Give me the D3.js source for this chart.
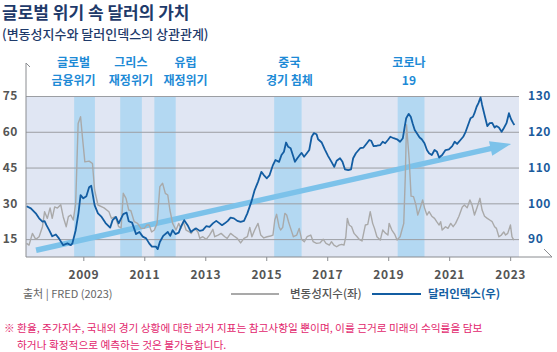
<!DOCTYPE html>
<html>
<head>
<meta charset="utf-8">
<script src="https://cdn.jsdelivr.net/npm/d3@7"></script>
<style>
  body { margin: 0; background: #fff; }
  svg { display: block; font-family: "Noto Sans CJK KR", "Noto Sans", sans-serif; }
</style>
</head>
<body>
<svg width="557" height="352"></svg>
<script>
// data (decimal years)
const dollarYears = [2007.14, 2007.28, 2007.44, 2007.55, 2007.66, 2007.73, 2007.79, 2007.88, 2007.98, 2008.10,
  2008.20, 2008.34, 2008.48, 2008.59, 2008.64, 2008.75, 2008.84, 2008.91, 2009.00, 2009.10,
  2009.19, 2009.26, 2009.37, 2009.48, 2009.60, 2009.73, 2009.88, 2009.96, 2010.07, 2010.16,
  2010.24, 2010.31, 2010.42, 2010.49, 2010.60, 2010.73, 2010.84, 2010.95, 2011.06, 2011.16,
  2011.25, 2011.38, 2011.44, 2011.51, 2011.62, 2011.77, 2011.85, 2011.93, 2012.02, 2012.13,
  2012.20, 2012.31, 2012.42, 2012.53, 2012.60, 2012.70, 2012.82, 2012.92, 2013.03, 2013.14,
  2013.25, 2013.36, 2013.47, 2013.55, 2013.64, 2013.74, 2013.83, 2013.94, 2014.05, 2014.16,
  2014.27, 2014.38, 2014.51, 2014.62, 2014.73, 2014.84, 2014.92, 2015.02, 2015.11, 2015.22,
  2015.30, 2015.42, 2015.50, 2015.58, 2015.65, 2015.72, 2015.80, 2015.89, 2015.94, 2016.02,
  2016.10, 2016.16, 2016.24, 2016.33, 2016.41, 2016.49, 2016.56, 2016.65, 2016.70, 2016.82,
  2016.92, 2017.03, 2017.14, 2017.23, 2017.31, 2017.42, 2017.50, 2017.58, 2017.69, 2017.78,
  2017.85, 2017.94, 2018.08, 2018.19, 2018.30, 2018.38, 2018.44, 2018.52, 2018.63, 2018.74,
  2018.82, 2018.90, 2018.99, 2019.07, 2019.18, 2019.29, 2019.39, 2019.48, 2019.54, 2019.59,
  2019.67, 2019.74, 2019.80, 2019.87, 2019.94, 2020.03, 2020.10, 2020.19, 2020.27, 2020.34,
  2020.43, 2020.52, 2020.60, 2020.67, 2020.77, 2020.88, 2020.99, 2021.10, 2021.18, 2021.26,
  2021.37, 2021.46, 2021.54, 2021.62, 2021.70, 2021.78, 2021.83, 2021.90, 2021.96, 2022.03,
  2022.08, 2022.16, 2022.25, 2022.33, 2022.41, 2022.49, 2022.55, 2022.63, 2022.72, 2022.79,
  2022.88, 2022.96, 2023.03, 2023.10, 2023.14]
const dollarValues = [99.2, 98.6, 97.2, 95.8, 94.9, 95.0, 93.9, 92.5, 90.8, 91.3,
  90.2, 88.3, 88.8, 88.3, 88.8, 92.5, 97.2, 102.3, 101.4, 102.0,
  104.5, 104.9, 99.5, 97.2, 96.2, 94.5, 93.2, 95.3, 96.2, 94.4,
  95.8, 97.0, 97.4, 95.0, 94.6, 91.4, 92.0, 90.7, 90.2, 88.8,
  87.9, 87.9, 87.2, 89.2, 90.9, 92.0, 90.9, 92.5, 91.4, 91.8,
  93.4, 95.3, 93.9, 92.0, 92.5, 93.0, 92.3, 92.5, 93.6, 93.4,
  94.4, 95.1, 94.4, 93.9, 94.4, 95.1, 96.0, 95.8, 95.1, 94.8,
  95.1, 97.2, 100.4, 103.7, 106.0, 108.8, 107.9, 107.0, 107.9, 110.7,
  112.1, 111.6, 113.5, 114.4, 117.0, 115.8, 115.4, 113.0, 111.6, 112.6,
  113.5, 114.1, 113.0, 114.0, 114.9, 118.6, 119.6, 119.3, 117.9, 117.0,
  115.1, 113.2, 111.6, 110.2, 111.9, 112.6, 111.6, 109.5, 109.3, 109.5,
  112.6, 114.0, 115.4, 115.6, 116.8, 117.7, 117.5, 116.0, 116.1, 116.3,
  117.2, 116.8, 117.7, 118.6, 118.2, 117.9, 117.2, 118.2, 121.4, 123.8,
  125.0, 124.2, 122.4, 120.5, 119.6, 118.4, 117.9, 116.8, 114.9, 114.0,
  113.5, 114.9, 114.4, 112.8, 113.5, 114.9, 115.1, 116.0, 117.2, 116.6,
  117.7, 118.6, 120.0, 121.9, 123.8, 124.2, 125.2, 127.0, 128.0, 129.6,
  127.5, 124.7, 121.6, 122.4, 122.5, 121.2, 121.6, 121.2, 120.0, 121.0,
  122.4, 125.2, 123.5, 122.4, 121.9]

const vixYears = [2007.14, 2007.22, 2007.33, 2007.44, 2007.55, 2007.66, 2007.73, 2007.82, 2007.91, 2007.98,
  2008.06, 2008.15, 2008.26, 2008.34, 2008.44, 2008.51, 2008.59, 2008.67, 2008.75, 2008.83,
  2008.91, 2008.97, 2009.05, 2009.19, 2009.30, 2009.37, 2009.48, 2009.68, 2009.84, 2009.92,
  2010.05, 2010.16, 2010.24, 2010.31, 2010.40, 2010.49, 2010.56, 2010.67, 2010.78, 2010.89,
  2011.00, 2011.08, 2011.16, 2011.24, 2011.33, 2011.42, 2011.51, 2011.60, 2011.69, 2011.77,
  2011.84, 2011.93, 2012.04, 2012.13, 2012.20, 2012.28, 2012.37, 2012.48, 2012.54, 2012.65,
  2012.76, 2012.82, 2012.92, 2013.03, 2013.14, 2013.25, 2013.31, 2013.42, 2013.52, 2013.64,
  2013.72, 2013.83, 2013.94, 2014.05, 2014.16, 2014.27, 2014.38, 2014.46, 2014.53, 2014.62,
  2014.73, 2014.82, 2014.92, 2015.03, 2015.14, 2015.22, 2015.28, 2015.34, 2015.42, 2015.47,
  2015.54, 2015.61, 2015.67, 2015.73, 2015.80, 2015.89, 2016.00, 2016.08, 2016.16, 2016.25,
  2016.34, 2016.46, 2016.54, 2016.65, 2016.76, 2016.87, 2016.96, 2017.07, 2017.14, 2017.22,
  2017.31, 2017.39, 2017.47, 2017.55, 2017.61, 2017.66, 2017.72, 2017.80, 2017.88, 2017.98,
  2018.05, 2018.14, 2018.25, 2018.33, 2018.41, 2018.49, 2018.55, 2018.63, 2018.74, 2018.82,
  2018.90, 2018.99, 2019.03, 2019.12, 2019.21, 2019.29, 2019.39, 2019.45, 2019.51, 2019.56,
  2019.60, 2019.69, 2019.75, 2019.83, 2019.91, 2019.97, 2020.05, 2020.13, 2020.19, 2020.27,
  2020.34, 2020.43, 2020.52, 2020.59, 2020.67, 2020.72, 2020.77, 2020.88, 2020.96, 2021.05,
  2021.13, 2021.21, 2021.32, 2021.43, 2021.50, 2021.59, 2021.68, 2021.75, 2021.83, 2021.92,
  2022.01, 2022.08, 2022.16, 2022.25, 2022.33, 2022.41, 2022.49, 2022.55, 2022.63, 2022.71,
  2022.79, 2022.85, 2022.92, 2023.01, 2023.06, 2023.12]
const vixValues = [13.2, 12.5, 17.4, 14.9, 16.0, 20.2, 26.5, 23.7, 28.1, 23.7,
  28.5, 28.0, 29.4, 24.4, 20.2, 24.4, 25.1, 23.0, 30.0, 63.5,
  66.3, 57.9, 47.4, 47.7, 46.7, 35.6, 29.3, 28.1, 26.5, 23.7,
  24.4, 20.2, 19.7, 34.2, 32.1, 27.2, 26.9, 22.3, 21.6, 19.5,
  19.5, 20.9, 20.9, 18.0, 18.8, 21.6, 37.0, 38.4, 34.2, 33.5,
  27.2, 21.6, 18.8, 21.6, 19.5, 22.3, 18.8, 18.0, 17.4, 19.5,
  18.0, 15.3, 16.0, 14.9, 16.7, 19.1, 16.0, 16.7, 17.4, 16.0,
  15.3, 17.4, 16.3, 15.3, 13.4, 15.3, 16.0, 19.9, 16.0, 18.8,
  21.6, 16.7, 15.5, 16.0, 16.3, 16.7, 23.0, 25.4, 20.2, 18.8,
  19.9, 25.8, 25.1, 22.3, 19.5, 16.0, 16.7, 19.5, 14.9, 13.9,
  16.0, 16.7, 13.9, 13.2, 13.4, 14.9, 13.2, 12.5, 13.9, 12.5,
  11.8, 12.5, 12.8, 12.5, 16.0, 23.7, 20.9, 20.2, 17.4, 16.0,
  14.9, 14.2, 20.9, 21.2, 26.5, 21.6, 19.5, 16.0, 14.6, 18.8,
  17.6, 16.7, 21.6, 18.8, 17.1, 14.6, 16.0, 18.8, 21.6, 41.1,
  63.0, 48.1, 33.0, 32.8, 29.3, 25.1, 28.1, 31.4, 28.1, 25.1,
  26.5, 24.6, 23.7, 22.3, 20.9, 22.3, 18.8, 20.2, 19.5, 21.6,
  20.2, 21.6, 24.6, 28.5, 29.3, 28.1, 31.4, 29.3, 25.1, 28.5,
  32.1, 27.2, 24.6, 23.7, 23.0, 22.3, 20.2, 19.5, 16.0, 16.7,
  18.0, 16.7, 17.4, 20.9, 16.0, 14.6]

// crisis periods (shaded bands) and their labels
const crisisStarts = [2008.70, 2010.21, 2011.33, 2015.26, 2019.31]
const crisisEnds = [2009.38, 2010.92, 2012.03, 2016.16, 2020.19]
const crisisLabels = [["글로벌", "금융위기"], ["그리스", "재정위기"], ["유럽", "재정위기"], ["중국", "경기 침체"], ["코로나", "19"]]
const crisisLabelYears = [2008.68, 2010.56, 2012.35, 2015.76, 2019.68]

// tick labels
const leftTicks = [15, 30, 45, 60, 75]
const rightTicks = [90, 100, 110, 120, 130]
const yearTicks = [2009, 2011, 2013, 2015, 2017, 2019, 2021, 2023]

// trend arrow, start and tip in (year, dollar index)
const trendFrom = [2007.45, 86.9]
const trendTo = [2023.03, 116.6]

const svg = d3.select("svg")

// scales
const scaleX = d3.scaleLinear()
  .domain([2007.12, 2023.29])
  .range([26, 519])

const scaleL = d3.scaleLinear()
  .domain([7.5, 75])
  .range([257, 96])

const scaleR = d3.scaleLinear()
  .domain([85, 130])
  .range([257, 96])

// titles
svg.append("text")
  .attr("x", 2)
  .attr("y", 19)
  .attr("fill", "#1e3a6a")
  .attr("font-size", 17)
  .attr("font-weight", 700)
  .text("글로벌 위기 속 달러의 가치")

svg.append("text")
  .attr("x", 2)
  .attr("y", 39)
  .attr("fill", "#1e3a6a")
  .attr("font-size", 13)
  .attr("font-weight", 500)
  .text("(변동성지수와 달러인덱스의 상관관계)")

// plot background
svg.append("rect")
  .attr("x", scaleX.range()[0])
  .attr("y", 96)
  .attr("width", scaleX.range()[1] - scaleX.range()[0])
  .attr("height", 257 - 96)
  .attr("fill", "#e0e6f3")

// crisis bands
svg.selectAll("rect.band")
  .data(crisisStarts)
  .enter()
  .append("rect")
  .attr("class", "band")
  .attr("x", d => scaleX(d))
  .attr("y", 96)
  .attr("width", (d, i) => scaleX(crisisEnds[i]) - scaleX(d))
  .attr("height", 257 - 96)
  .attr("fill", "#b3d8f2")

// crisis labels, two lines each
const labelGroups = svg.selectAll("g.crisis-label")
  .data(crisisLabels)
  .enter()
  .append("g")
  .attr("class", "crisis-label")
  .attr("transform", (d, i) => `translate(${scaleX(crisisLabelYears[i])},0)`)

labelGroups.selectAll("text")
  .data(d => d)
  .enter()
  .append("text")
  .attr("x", 0)
  .attr("y", (d, i) => i === 0 ? 67 : 85)
  .attr("text-anchor", "middle")
  .attr("fill", "#1d8ad6")
  .attr("font-size", 12)
  .attr("font-weight", 700)
  .text(d => d)

// gridlines + left axis labels
const axisYGroup = svg.append("g")
  .attr("class", "y-axis")
  .attr("transform", "translate(26,0)")

axisYGroup.call(
  d3.axisLeft(scaleL)
    .tickValues(leftTicks)
    .tickSizeInner(-(scaleX.range()[1] - 26))
    .tickSizeOuter(0)
    .tickPadding(8)
)
axisYGroup.select(".domain").remove()
axisYGroup.selectAll(".tick line")
  .attr("stroke", "#9c9ea3")
  .attr("stroke-width", 1)
axisYGroup.selectAll(".tick text")
  .attr("fill", "#555")
  .attr("font-size", 12)
  .attr("font-weight", 700)
  .attr("letter-spacing", 0.6)
  .attr("font-family", "'Noto Sans CJK KR', sans-serif")

// right axis labels
const axisRGroup = svg.append("g")
  .attr("class", "y-axis-right")
  .attr("transform", "translate(528,0)")

axisRGroup.call(
  d3.axisRight(scaleR)
    .tickValues(rightTicks)
    .tickSize(0)
    .tickPadding(0)
)
axisRGroup.select(".domain").remove()
axisRGroup.selectAll(".tick text")
  .attr("fill", "#1b5b9d")
  .attr("font-size", 12)
  .attr("font-weight", 700)
  .attr("letter-spacing", 0.6)
  .attr("font-family", "'Noto Sans CJK KR', sans-serif")

// trend arrow
const p0 = [scaleX(trendFrom[0]), scaleR(trendFrom[1])]
const p1 = [scaleX(trendTo[0]), scaleR(trendTo[1])]
const len = Math.hypot(p1[0] - p0[0], p1[1] - p0[1])
const ux = (p1[0] - p0[0]) / len
const uy = (p1[1] - p0[1]) / len
const headLen = 21
const headHalf = 7.5

svg.append("line")
  .attr("x1", p0[0])
  .attr("y1", p0[1])
  .attr("x2", p1[0] - ux * (headLen - 2))
  .attr("y2", p1[1] - uy * (headLen - 2))
  .attr("stroke", "#7cc2ea")
  .attr("stroke-width", 5.5)

svg.append("path")
  .attr("d", `M${p1[0]},${p1[1]}
    L${p1[0] - ux * headLen - uy * headHalf},${p1[1] - uy * headLen + ux * headHalf}
    L${p1[0] - ux * headLen + uy * headHalf},${p1[1] - uy * headLen - ux * headHalf}Z`)
  .attr("fill", "#7cc2ea")

// lines
const vixData = vixYears.map((y, i) => ({ year: y, value: vixValues[i] }))
const dollarData = dollarYears.map((y, i) => ({ year: y, value: dollarValues[i] }))

const vixLine = d3.line()
  .x(d => scaleX(d.year))
  .y(d => scaleL(d.value))

const dollarLine = d3.line()
  .x(d => scaleX(d.year))
  .y(d => scaleR(d.value))

svg.append("path")
  .datum(vixData)
  .attr("d", vixLine)
  .attr("fill", "none")
  .attr("stroke", "#a9a9a9")
  .attr("stroke-width", 1.4)
  .attr("stroke-linejoin", "round")

svg.append("path")
  .datum(dollarData)
  .attr("d", dollarLine)
  .attr("fill", "none")
  .attr("stroke", "#135da2")
  .attr("stroke-width", 1.8)
  .attr("stroke-linejoin", "round")

// axes lines with the small break marks
svg.append("path")
  .attr("d", "M26,63 V257 H552")
  .attr("fill", "none")
  .attr("stroke", "#8a8c90")
  .attr("stroke-width", 1)

svg.append("path")
  .attr("d", "M26,63 L30,67 M544,249 L552,257")
  .attr("fill", "none")
  .attr("stroke", "#8a8c90")
  .attr("stroke-width", 1)

// x axis
const axisXGroup = svg.append("g")
  .attr("class", "x-axis")
  .attr("transform", "translate(0,257)")

axisXGroup.call(
  d3.axisBottom(scaleX)
    .tickValues(yearTicks)
    .tickFormat(d3.format("d"))
    .tickSizeInner(4)
    .tickSizeOuter(0)
    .tickPadding(9)
)
axisXGroup.select(".domain").remove()
axisXGroup.selectAll(".tick line")
  .attr("stroke", "#8a8c90")
axisXGroup.selectAll(".tick text")
  .attr("fill", "#555")
  .attr("font-size", 12)
  .attr("font-weight", 700)
  .attr("letter-spacing", 0.6)
  .attr("font-family", "'Noto Sans CJK KR', sans-serif")

// source + legend
svg.append("text")
  .attr("x", 23)
  .attr("y", 298)
  .attr("fill", "#666")
  .attr("font-size", 11)
  .text("출처 | FRED (2023)")

svg.append("line")
  .attr("x1", 231).attr("x2", 279)
  .attr("y1", 294).attr("y2", 294)
  .attr("stroke", "#a9a9a9")
  .attr("stroke-width", 2)

svg.append("text")
  .attr("x", 290)
  .attr("y", 298)
  .attr("fill", "#555")
  .attr("font-size", 11.5)
  .attr("font-weight", 500)
  .text("변동성지수(좌)")

svg.append("line")
  .attr("x1", 372).attr("x2", 421)
  .attr("y1", 294).attr("y2", 294)
  .attr("stroke", "#135da2")
  .attr("stroke-width", 2)

svg.append("text")
  .attr("x", 428)
  .attr("y", 298)
  .attr("fill", "#135da2")
  .attr("font-size", 11.5)
  .attr("font-weight", 700)
  .text("달러인덱스(우)")

// disclaimer
svg.append("text")
  .attr("x", 4)
  .attr("y", 332)
  .attr("fill", "#e2266d")
  .attr("font-size", 10.7)
  .text("※ 환율, 주가지수, 국내외 경기 상황에 대한 과거 지표는 참고사항일 뿐이며, 이를 근거로  미래의 수익률을 담보")

svg.append("text")
  .attr("x", 17)
  .attr("y", 349)
  .attr("fill", "#e2266d")
  .attr("font-size", 10.7)
  .text("하거나 확정적으로 예측하는 것은 불가능합니다.")
</script>
</body>
</html>
